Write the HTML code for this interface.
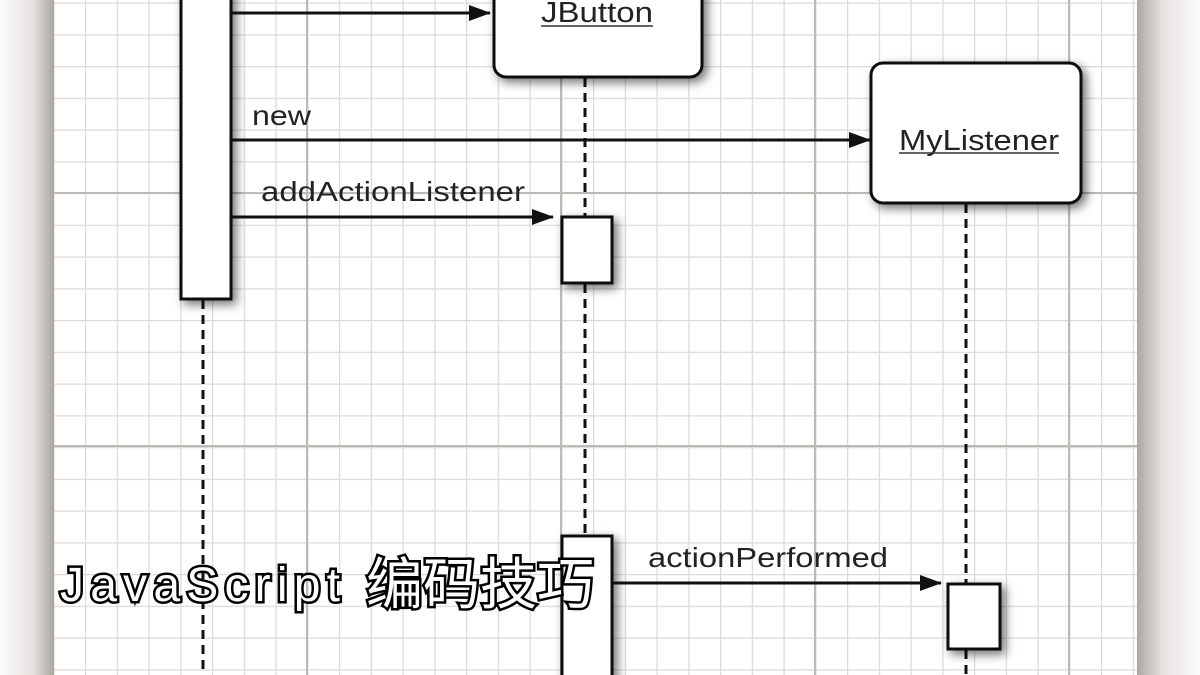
<!DOCTYPE html>
<html><head><meta charset="utf-8"><style>
html,body{margin:0;padding:0;width:1200px;height:675px;overflow:hidden;background:#fff}
svg{display:block}
.t{font-family:"Liberation Sans",sans-serif;fill:#222}
</style></head><body>
<svg width="1200" height="675" viewBox="0 0 1200 675" xmlns="http://www.w3.org/2000/svg">
<defs>
<pattern id="minor" x="21.5" y="2.5" width="31.75" height="31.75" patternUnits="userSpaceOnUse">
<path d="M0 0H31.75M0 0V31.75" stroke="#dcdad6" stroke-width="2.5" fill="none"/>
</pattern>
<linearGradient id="lg" x1="0" x2="1"><stop offset="0" stop-color="#fbfbfa"/><stop offset="0.6" stop-color="#e6e3df"/><stop offset="1" stop-color="#aaa5a0"/></linearGradient>
<linearGradient id="rg" x1="0" x2="1"><stop offset="0" stop-color="#aaa5a0"/><stop offset="0.4" stop-color="#e6e3df"/><stop offset="1" stop-color="#fbfbfa"/></linearGradient>
<filter id="sh" x="-30%" y="-30%" width="160%" height="160%"><feDropShadow dx="4" dy="4" stdDeviation="5" flood-color="#000" flood-opacity="0.55"/></filter>
<marker id="ar" markerWidth="22" markerHeight="16" refX="21" refY="8" orient="auto" markerUnits="userSpaceOnUse"><path d="M0 0L22 8L0 16Z" fill="#111"/></marker>
</defs>
<rect x="0" y="0" width="1200" height="675" fill="#fff"/>
<rect x="54" y="0" width="1083" height="675" fill="url(#minor)"/>
<g stroke="#bdbab5" stroke-width="2">
<line x1="307" y1="0" x2="307" y2="675"/><line x1="561" y1="0" x2="561" y2="675"/><line x1="815" y1="0" x2="815" y2="675"/><line x1="1069" y1="0" x2="1069" y2="675"/>
<line x1="54" y1="193" x2="1137" y2="193"/><line x1="54" y1="446" x2="1137" y2="446"/>
</g>
<rect x="0" y="0" width="54" height="675" fill="url(#lg)"/>
<rect x="1137" y="0" width="63" height="675" fill="url(#rg)"/>
<g stroke="#111" stroke-width="3" stroke-dasharray="9,6">
<line x1="203" y1="300" x2="203" y2="675"/>
<line x1="585" y1="78" x2="585" y2="217"/>
<line x1="585" y1="284" x2="585" y2="535"/>
<line x1="966" y1="204" x2="966" y2="583"/>
<line x1="966" y1="650" x2="966" y2="675"/>
</g>
<g fill="#fff" stroke="#111" stroke-width="3" filter="url(#sh)">
<rect x="181" y="-10" width="50" height="309"/>
<rect x="494" y="-20" width="208" height="97" rx="12"/>
<rect x="871" y="63" width="210" height="140" rx="12"/>
<rect x="562" y="217" width="50" height="66"/>
<rect x="562" y="536" width="50" height="150"/>
<rect x="948" y="584" width="52" height="65"/>
</g>
<g stroke="#111" stroke-width="3" marker-end="url(#ar)">
<line x1="231" y1="13" x2="490" y2="13"/>
<line x1="231" y1="140" x2="870" y2="140"/>
<line x1="231" y1="217" x2="553" y2="217"/>
<line x1="612" y1="583" x2="941" y2="583"/>
</g>
<text class="t" x="541" y="22" font-size="29" textLength="112" lengthAdjust="spacingAndGlyphs">JButton</text>
<line x1="541" y1="26" x2="653" y2="26" stroke="#333" stroke-width="1.5"/>
<text class="t" x="899" y="150" font-size="29" textLength="160" lengthAdjust="spacingAndGlyphs">MyListener</text>
<line x1="899" y1="153" x2="1059" y2="153" stroke="#333" stroke-width="1.5"/>
<text class="t" x="252" y="125" font-size="28" textLength="59" lengthAdjust="spacingAndGlyphs">new</text>
<text class="t" x="261" y="201" font-size="28" textLength="264" lengthAdjust="spacingAndGlyphs">addActionListener</text>
<text class="t" x="648" y="567" font-size="28" textLength="240" lengthAdjust="spacingAndGlyphs">actionPerformed</text>
<g font-family="Liberation Sans,'Noto Sans CJK SC',sans-serif" fill="#fff" stroke="#000" stroke-width="5" paint-order="stroke">
<text x="60" y="601" font-size="48" textLength="280" lengthAdjust="spacing">JavaScript</text>
<text x="366" y="604" font-size="56" textLength="228" lengthAdjust="spacingAndGlyphs">编码技巧</text>
</g>
</svg>
</body></html>
